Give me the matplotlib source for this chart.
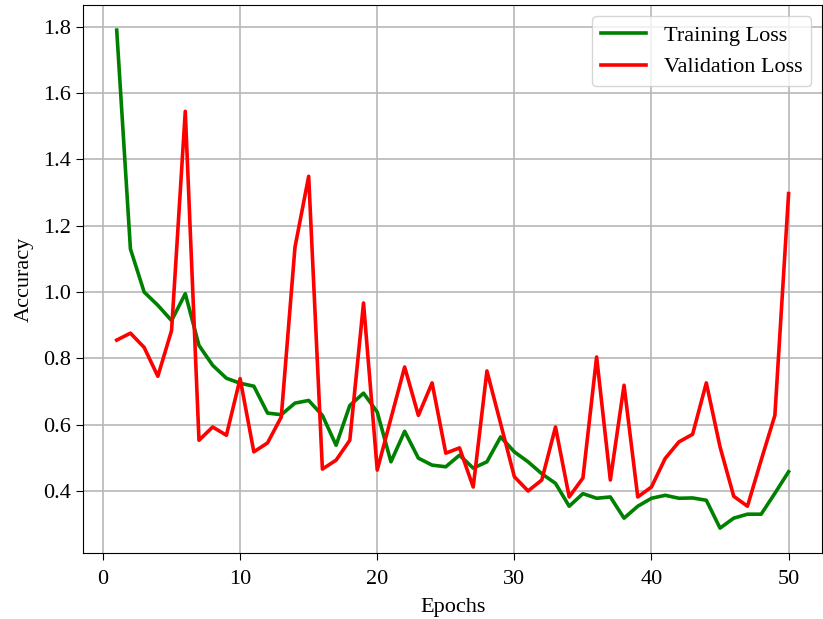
import matplotlib
matplotlib.use("Agg")
import matplotlib.pyplot as plt

plt.rcParams['font.family'] = ['Liberation Serif', 'DejaVu Serif']

epochs = list(range(1, 51))

# valeurs
train_loss = [1.79, 1.13, 1.00, 0.96, 0.914, 0.995, 0.839, 0.779, 0.74, 0.725,
              0.716, 0.635, 0.63, 0.665, 0.673, 0.628, 0.538, 0.658, 0.695, 0.638,
              0.488, 0.58, 0.499, 0.478, 0.473, 0.508, 0.469, 0.488, 0.563, 0.518,
              0.488, 0.452, 0.423, 0.354, 0.392, 0.378, 0.382, 0.318, 0.354, 0.378,
              0.387, 0.378, 0.379, 0.372, 0.288, 0.318, 0.330, 0.330, 0.393, 0.458]

val_loss = [0.855, 0.876, 0.833, 0.746, 0.884, 1.545, 0.553, 0.593, 0.568, 0.739,
            0.518, 0.545, 0.623, 1.135, 1.349, 0.466, 0.493, 0.553, 0.967, 0.463,
            0.619, 0.774, 0.628, 0.726, 0.514, 0.530, 0.412, 0.762, 0.603, 0.443,
            0.400, 0.433, 0.593, 0.382, 0.439, 0.804, 0.433, 0.719, 0.382, 0.412,
            0.498, 0.548, 0.571, 0.726, 0.533, 0.384, 0.354, 0.493, 0.628, 1.297]

fig = plt.figure(figsize=(8.23, 6.19), dpi=100)
ax = fig.add_axes([0.101, 0.1066, 0.898, 0.885])

ax.plot(epochs, train_loss, color='green', lw=2.6, label='Training Loss')
ax.plot(epochs, val_loss, color='red', lw=2.6, label='Validation Loss')

ax.set_xlabel('Epochs', fontsize=16, labelpad=7)
ax.set_ylabel('Accuracy', fontsize=16, labelpad=7)
ax.tick_params(labelsize=16, length=5)
ax.tick_params(axis='x', pad=7)
ax.grid(True, color='#b8b8b8', lw=1.2)
ax.legend(loc='upper right', fontsize=16)

fig.savefig('out.png', dpi=100)
